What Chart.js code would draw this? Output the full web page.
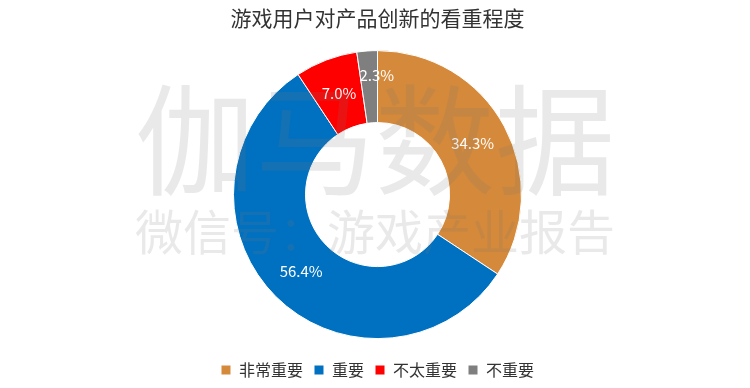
<!DOCTYPE html>
<html>
<head>
<meta charset="utf-8">
<script src="https://cdn.jsdelivr.net/npm/chart.js@4/dist/chart.umd.min.js"></script>
<style>
  html, body { margin: 0; padding: 0; background: #fff; }
  #wrap { width: 750px; height: 388px; }
</style>
</head>
<body>
<div id="wrap"><canvas id="myDoughnut"></canvas></div>
<script>
const categories = ['非常重要', '重要', '不太重要', '不重要'];
const shares = [34.3, 56.4, 7.0, 2.3];
const sliceColors = ['#D58A3B', '#0070C0', '#FF0000', '#7F7F7F'];

const fontFamily = '"Noto Sans CJK SC", "Noto Sans", sans-serif';

// percentage labels in the middle of each ring segment
const sliceLabels = {
    id: 'sliceLabels',
    afterDatasetsDraw(chart) {
        const ctx = chart.ctx;
        const meta = chart.getDatasetMeta(0);
        ctx.save();
        ctx.fillStyle = '#fff';
        ctx.font = '15px ' + fontFamily;
        ctx.textAlign = 'center';
        ctx.textBaseline = 'middle';
        meta.data.forEach((arc, i) => {
            let pos = arc.tooltipPosition();
            if (shares[i] < 5) {
                // tiny slice: push label out toward the rim like excel does
                const mid = (arc.startAngle + arc.endAngle) / 2;
                const r = arc.outerRadius - 24;
                pos = { x: arc.x + Math.cos(mid) * r + 8, y: arc.y + Math.sin(mid) * r };
            }
            ctx.fillText(shares[i].toFixed(1) + '%', pos.x, pos.y);
        });
        ctx.restore();
    }
};

// faint watermark across the chart
const watermark = {
    id: 'watermark',
    afterDraw(chart) {
        const ctx = chart.ctx;
        ctx.save();
        ctx.fillStyle = 'rgba(120, 120, 120, 0.16)';
        ctx.textAlign = 'center';
        ctx.textBaseline = 'middle';
        ctx.font = '120px ' + fontFamily;
        ctx.fillText('伽马数据', 375, 140);
        ctx.font = '48px ' + fontFamily;
        ctx.fillText('微信号：游戏产业报告', 375, 232);
        ctx.restore();
    }
};

const ctx = document.getElementById('myDoughnut').getContext('2d');
const myDoughnut = new Chart(ctx, {
    type: 'doughnut',
    data: {
        labels: categories,
        datasets: [{
            data: shares,
            backgroundColor: sliceColors,
            borderColor: '#fff',
            borderWidth: 1
        }]
    },
    options: {
        responsive: true,
        maintainAspectRatio: false,
        animation: false,
        radius: 144,
        cutout: '50%',
        layout: {
            padding: { top: 2, bottom: 0, left: 5 }
        },
        plugins: {
            title: {
                display: true,
                text: '游戏用户对产品创新的看重程度',
                color: '#333',
                font: { family: fontFamily, size: 21, weight: 'normal' },
                padding: { top: 3, bottom: 8 }
            },
            legend: {
                position: 'bottom',
                labels: {
                    color: '#333',
                    font: { family: fontFamily, size: 16 },
                    boxWidth: 10,
                    boxHeight: 10,
                    padding: 11
                }
            },
            tooltip: { enabled: false }
        }
    },
    plugins: [sliceLabels, watermark]
});
</script>
</body>
</html>
